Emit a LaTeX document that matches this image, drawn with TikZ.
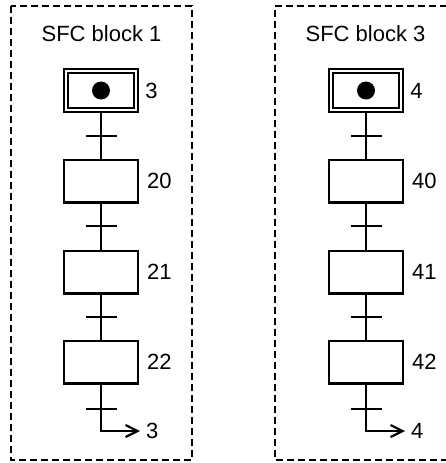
\documentclass[tikz,border=0pt]{standalone}
\usepackage{fontspec}
\setmainfont{Liberation Sans}
\usetikzlibrary{arrows.meta}
\begin{document}
\begin{tikzpicture}[x=1pt,y=-1pt,
  font=\fontsize{22}{26}\selectfont,
  block/.style={draw,line width=2pt,dash pattern=on 7pt off 4pt},
  stepbox/.style={draw,line width=2.2pt,minimum width=73.8pt,minimum height=42.8pt,inner sep=0pt},
  initbox/.style={draw,line width=1.7pt,double,double distance=2.2pt,minimum width=70.5pt,minimum height=39.5pt,inner sep=0pt},
  steplabel/.style={anchor=west,inner sep=0pt},
  link/.style={line width=2.2pt},
  trans/.style={line width=2.2pt},
  jump/.style={line width=2.2pt,-{Straight Barb[length=12pt,width=12pt,line width=2.2pt]}},
]
\useasboundingbox (0,0) rectangle (446,463);
% ---------- block 1 ----------
\draw[block] (11,6) rectangle (192,460);
\node (title1) at (101.5,34) {SFC block 1};
\node[initbox] (i1) at (101,90.5) {};
\fill (i1.center) circle (9);
\node[stepbox] (s20) at (101,181) {};
\node[stepbox] (s21) at (101,272) {};
\node[stepbox] (s22) at (101,362) {};
\node[steplabel] (l3) at ([xshift=8pt]i1.east) {3};
\node[steplabel] (l20) at ([xshift=8pt]s20.east) {20};
\node[steplabel] (l21) at ([xshift=8pt]s21.east) {21};
\node[steplabel] (l22) at ([xshift=8pt]s22.east) {22};
\coordinate (t1) at (101,136);
\coordinate (t2) at (101,226);
\coordinate (t3) at (101,317);
\coordinate (t4) at (101,409);
\coordinate (c1) at (101,431);
\node[steplabel] (r1) at (146,431) {3};
\draw[link] (i1) -- (s20);
\draw[link] (s20) -- (s21);
\draw[link] (s21) -- (s22);
\draw[jump] (s22.south) -- (c1) -- ([xshift=-6pt]r1.west);
\foreach \t in {t1,t2,t3,t4} \draw[trans] ([xshift=-15.5pt]\t) -- ([xshift=15.5pt]\t);
% ---------- block 3 ----------
\draw[block] (447,6) -- (275,6) -- (275,460) -- (447,460);
\node (title3) at (365.5,34) {SFC block 3};
\node[initbox] (i2) at (366,90.5) {};
\fill (i2.center) circle (9);
\node[stepbox] (s40) at (366,181) {};
\node[stepbox] (s41) at (366,272) {};
\node[stepbox] (s42) at (366,362) {};
\node[steplabel] (l4) at ([xshift=8pt]i2.east) {4};
\node[steplabel] (l40) at ([xshift=8pt]s40.east) {40};
\node[steplabel] (l41) at ([xshift=8pt]s41.east) {41};
\node[steplabel] (l42) at ([xshift=8pt]s42.east) {42};
\coordinate (u1) at (366,136);
\coordinate (u2) at (366,226);
\coordinate (u3) at (366,317);
\coordinate (u4) at (366,409);
\coordinate (c2) at (366,431);
\node[steplabel] (r2) at (411,431) {4};
\draw[link] (i2) -- (s40);
\draw[link] (s40) -- (s41);
\draw[link] (s41) -- (s42);
\draw[jump] (s42.south) -- (c2) -- ([xshift=-6pt]r2.west);
\foreach \t in {u1,u2,u3,u4} \draw[trans] ([xshift=-15.5pt]\t) -- ([xshift=15.5pt]\t);
\end{tikzpicture}
\end{document}
